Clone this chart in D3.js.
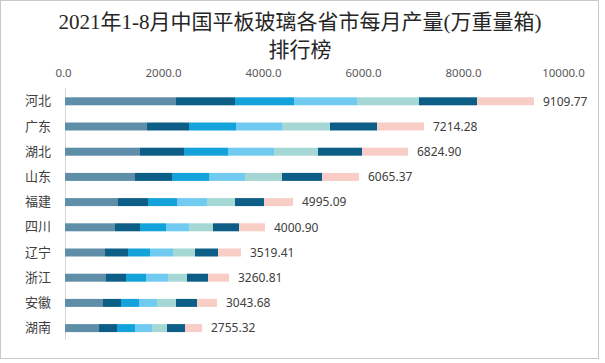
<!DOCTYPE html>
<html>
<head>
<meta charset="utf-8">
<script src="https://cdn.jsdelivr.net/npm/d3@7"></script>
<style>
  body { margin: 0; background: #fff; }
  svg { display: block; }
</style>
</head>
<body>
<div id="chart"></div>
<script>
// provinces, top to bottom
var provinces = ["河北", "广东", "湖北", "山东", "福建", "四川", "辽宁", "浙江", "安徽", "湖南"];
// month groups (Jan+Feb reported together)
var months = ["1-2月", "3月", "4月", "5月", "6月", "7月", "8月"];
// monthly output per province, in order of months (万重量箱)
var m12 = [2220, 1640, 1500, 1400, 1060, 1000, 800, 820, 760, 680];
var m3  = [1180,  840,  880,  740,  600,  500, 460, 400, 360, 360];
var m4  = [1180,  940,  880,  740,  580,  520, 440, 400, 360, 360];
var m5  = [1260,  935,  920,  720,  600,  460, 460, 440, 360, 340];
var m6  = [1240,  945,  880,  740,  560,  480, 440, 380, 380, 300];
var m7  = [1160,  945,  880,  800,  580,  520, 460, 420, 420, 360];
var m8  = [1140,  935,  920,  740,  580,  520, 460, 420, 400, 340];
// totals shown at the end of each bar
var totals = ["9109.77", "7214.28", "6824.90", "6065.37", "4995.09", "4000.90", "3519.41", "3260.81", "3043.68", "2755.32"];
var ticks = [0, 2000, 4000, 6000, 8000, 10000];
var colors = ["#5e8ea8", "#0c5e86", "#13a2d9", "#71cbf1", "#a5d8d5", "#0c5e86", "#f7cdc6"];

var W = 605, H = 363;

// build rows for the stack
var series = [m12, m3, m4, m5, m6, m7, m8];
var rows = provinces.map(function(p, i) {
  var r = {province: p};
  months.forEach(function(m, j) { r[m] = series[j][i]; });
  return r;
});

var svg = d3.select("#chart").append("svg")
  .attr("width", W)
  .attr("height", H);

// outer frame
svg.append("rect")
  .attr("x", 0.5).attr("y", 0.5)
  .attr("width", W - 7).attr("height", H - 5)
  .attr("fill", "#fff")
  .attr("stroke", "#c8c8c8");

// title
var title = svg.append("text")
  .attr("text-anchor", "middle")
  .attr("font-family", "'Liberation Serif', 'Noto Sans CJK SC', serif")
  .attr("font-size", 21)
  .attr("fill", "#262626");
title.append("tspan").attr("x", 300).attr("y", 29)
  .text("2021年1-8月中国平板玻璃各省市每月产量(万重量箱)");
title.append("tspan").attr("x", 300).attr("y", 57)
  .text("排行榜");

var x = d3.scaleLinear()
  .domain([0, 10000])
  .range([65, 565]);

var y = d3.scaleBand()
  .domain(provinces)
  .range([88.7, 340.7])
  .paddingInner(0.683)
  .paddingOuter(0.3415);

// top axis labels
var xAxis = svg.append("g")
  .attr("transform", "translate(-2,80)")
  .call(d3.axisTop(x).tickValues(ticks).tickSize(0).tickFormat(d3.format(".1f")));
xAxis.select(".domain").remove();
xAxis.selectAll("text")
  .attr("font-family", "'Noto Sans', sans-serif")
  .attr("font-size", 11.5)
  .attr("fill", "#595959");

// left axis
var yAxis = svg.append("g")
  .attr("transform", "translate(65,0)")
  .call(d3.axisLeft(y).tickSize(0).tickPadding(14));
yAxis.select(".domain")
  .attr("stroke", "#d9d9d9")
  .attr("d", "M0.5,88V340");
yAxis.selectAll("text")
  .attr("font-family", "'Noto Sans CJK SC', sans-serif")
  .attr("font-size", 13)
  .attr("fill", "#404040");

// stacked bars
var stacked = d3.stack().keys(months)(rows);

svg.append("g")
  .selectAll("g")
  .data(stacked)
  .enter().append("g")
    .attr("fill", function(d, i) { return colors[i]; })
  .selectAll("rect")
  .data(function(d) { return d; })
  .enter().append("rect")
    .attr("x", function(d) { return x(d[0]); })
    .attr("y", function(d) { return y(d.data.province); })
    .attr("width", function(d) { return x(d[1]) - x(d[0]); })
    .attr("height", y.bandwidth());

// total labels
var last = stacked[stacked.length - 1];
svg.append("g")
  .selectAll("text")
  .data(last)
  .enter().append("text")
    .attr("x", function(d) { return x(d[1]) + 9; })
    .attr("y", function(d) { return y(d.data.province) + y.bandwidth() / 2; })
    .attr("dy", "0.36em")
    .attr("font-family", "'Noto Sans', sans-serif")
    .attr("font-size", 12)
    .attr("fill", "#404040")
    .text(function(d, i) { return totals[i]; });
</script>
</body>
</html>
